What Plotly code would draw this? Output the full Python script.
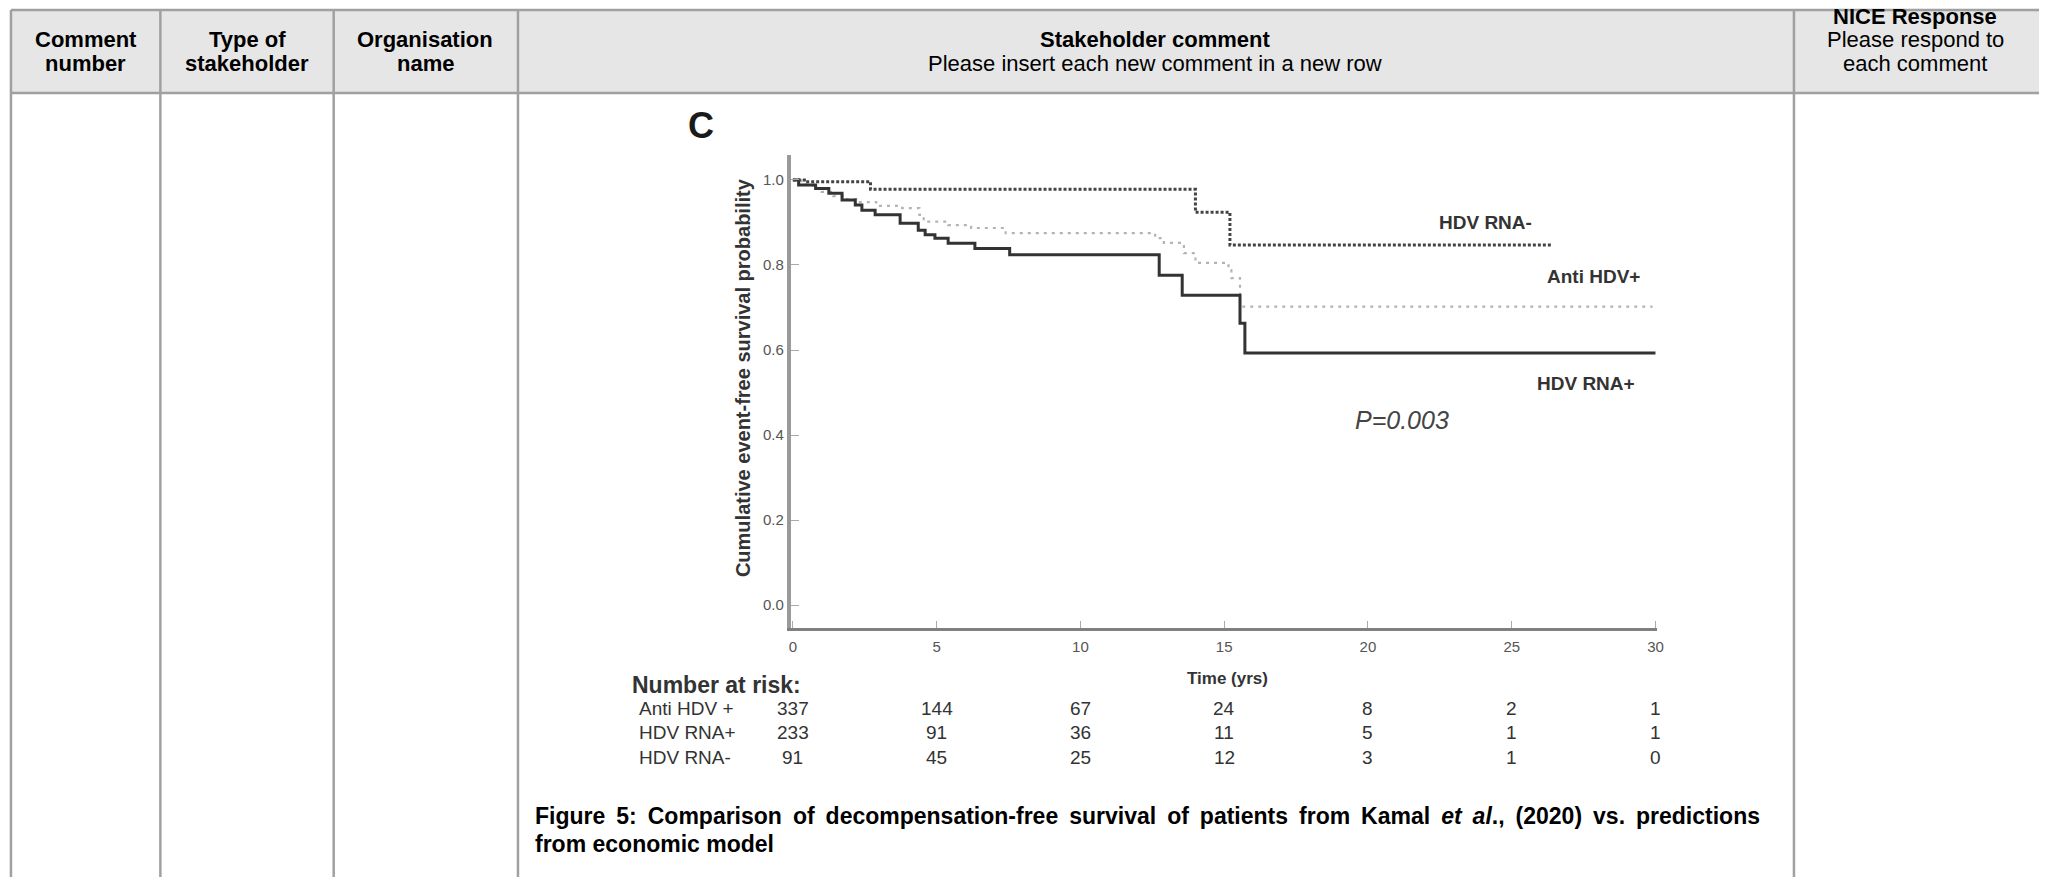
import plotly.graph_objects as go

W, H = 2045, 877
FONT = "Liberation Sans, Arial, Helvetica, sans-serif"

# ---------------- data ----------------
time_ticks = [0, 5, 10, 15, 20, 25, 30]
surv_ticks = [0.0, 0.2, 0.4, 0.6, 0.8, 1.0]
surv_tick_text = ["0.0", "0.2", "0.4", "0.6", "0.8", "1.0"]

hdv_rna_neg_t = [0, 0.4, 2.7, 14.0, 15.2, 26.4]
hdv_rna_neg_s = [1.0, 0.996, 0.978, 0.924, 0.847, 0.847]

anti_hdv_t = [0, 0.3, 0.7, 1.0, 1.4, 1.8, 2.2, 2.9, 3.8, 4.4, 4.55, 5.4, 6.2, 7.4,
              12.6, 12.9, 13.6, 14.0, 15.15, 15.25, 15.55, 29.9]
anti_hdv_s = [1.0, 0.99, 0.98, 0.972, 0.962, 0.955, 0.948, 0.939, 0.934, 0.918, 0.902,
              0.894, 0.887, 0.875, 0.863, 0.852, 0.828, 0.805, 0.788, 0.769, 0.702, 0.702]

hdv_rna_pos_t = [0, 0.2, 0.79, 1.25, 1.71, 2.17, 2.4, 2.86, 3.73, 4.36, 4.6, 4.94, 5.4,
                 6.33, 7.54, 12.74, 13.54, 15.55, 15.72, 30.0]
hdv_rna_pos_s = [1.0, 0.988, 0.980, 0.969, 0.953, 0.941, 0.929, 0.918, 0.898, 0.882,
                 0.871, 0.863, 0.851, 0.839, 0.824, 0.776, 0.729, 0.663, 0.593, 0.593]

risk_groups = ["Anti HDV +", "HDV RNA+", "HDV RNA-"]
risk_anti_hdv = [337, 144, 67, 24, 8, 2, 1]
risk_hdv_rna_pos = [233, 91, 36, 11, 5, 1, 1]
risk_hdv_rna_neg = [91, 45, 25, 12, 3, 1, 0]
risk_rows = [risk_anti_hdv, risk_hdv_rna_pos, risk_hdv_rna_neg]

curve_labels = ["HDV RNA-", "Anti HDV+", "HDV RNA+"]
p_value_text = "P=0.003"

header_titles = [
    ["Comment", "number"],
    ["Type of", "stakeholder"],
    ["Organisation", "name"],
    ["Stakeholder comment", "Please insert each new comment in a new row"],
    ["NICE Response", "Please respond to", "each comment"],
]
header_bold = [
    [True, True],
    [True, True],
    [True, True],
    [True, False],
    [True, False, False],
]

caption_words = ["Figure", "5:", "Comparison", "of", "decompensation-free", "survival",
                 "of", "patients", "from", "Kamal", "<i>et", "al</i>.,", "(2020)", "vs.",
                 "predictions"]
caption_line2 = "from economic model"


def px(x):
    return x / W


def py(y):
    return 1 - y / H


fig = go.Figure()

fig.add_trace(go.Scatter(x=anti_hdv_t, y=anti_hdv_s, mode="lines", line_shape="hv",
                         line=dict(color="#b4b4b4", width=2.2, dash="3px,5px"),
                         name="Anti HDV+", showlegend=False))
fig.add_trace(go.Scatter(x=hdv_rna_pos_t, y=hdv_rna_pos_s, mode="lines", line_shape="hv",
                         line=dict(color="#333333", width=3),
                         name="HDV RNA+", showlegend=False))
fig.add_trace(go.Scatter(x=hdv_rna_neg_t, y=hdv_rna_neg_s, mode="lines", line_shape="hv",
                         line=dict(color="#444444", width=3, dash="3px,2px"),
                         name="HDV RNA-", showlegend=False))

# ---------------- table shapes ----------------
border = "#a0a0a0"
shapes = [
    dict(type="rect", xref="paper", yref="paper", x0=px(9), x1=px(2045), y0=py(93), y1=py(10),
         fillcolor="#e6e6e6", line=dict(width=0), layer="below"),
    dict(type="line", xref="paper", yref="paper", x0=px(9), x1=px(2045), y0=py(10), y1=py(10),
         line=dict(color=border, width=2.5)),
    dict(type="line", xref="paper", yref="paper", x0=px(9), x1=px(2045), y0=py(93), y1=py(93),
         line=dict(color=border, width=2.5)),
]
for xv in [9, 159, 333, 518, 1799]:
    shapes.append(dict(type="line", xref="paper", yref="paper", x0=px(xv), x1=px(xv),
                       y0=py(10), y1=py(877), line=dict(color=border, width=2.5)))

ann = []


def text(x, y, s, size, bold=False, italic=False, color="#000000", xanchor="center",
         yanchor="middle", angle=0):
    if bold:
        s = "<b>" + s + "</b>"
    if italic:
        s = "<i>" + s + "</i>"
    ann.append(dict(x=px(x), y=py(y), xref="paper", yref="paper", text=s, showarrow=False,
                    xanchor=xanchor, yanchor=yanchor, textangle=angle,
                    font=dict(family=FONT, size=size, color=color)))


# header texts
col_centers = [84, 246, 425, 1158, 1921]
for cx, lines, bolds in zip(col_centers, header_titles, header_bold):
    ys = [39.5, 63.5] if len(lines) == 2 else [16.5, 40, 63.5]
    for ln, yy, b in zip(lines, ys, bolds):
        text(cx, yy, ln, 22, bold=b)

# panel letter
text(702, 125, "C", 36, bold=True, color="#1a1a1a")

# y-axis title
text(744, 378, "Cumulative event-free survival probability", 20, bold=True,
     color="#333333", angle=-90)
# x-axis title
text(1230, 678, "Time (yrs)", 17, bold=True, color="#333333")

# curve labels
text(1489, 222, curve_labels[0], 19, bold=True, color="#333333")
text(1598, 277, curve_labels[1], 19, bold=True, color="#333333")
text(1590, 383, curve_labels[2], 19, bold=True, color="#333333")
text(1406, 420, p_value_text, 25, italic=True, color="#444444")

# number at risk
text(630, 685, "Number at risk:", 23, bold=True, color="#333333", xanchor="left")
row_y = [708, 732, 757]
for lab, row, yy in zip(risk_groups, risk_rows, row_y):
    text(637, yy, lab, 19, color="#333333", xanchor="left")
    for t, n in zip(time_ticks, row):
        ann.append(dict(x=t, xref="x", y=py(yy), yref="paper", text=str(n), showarrow=False,
                        xanchor="center", yanchor="middle",
                        font=dict(family=FONT, size=19, color="#333333")))

# caption (first line justified with thin extra spaces)
caption_line1 = " \u2009".join(caption_words)
text(533, 816, caption_line1, 23, bold=True, xanchor="left")
text(533, 844, caption_line2, 23, bold=True, xanchor="left")

fig.update_layout(
    width=W, height=H,
    margin=dict(l=0, r=0, t=0, b=0),
    paper_bgcolor="white", plot_bgcolor="white",
    shapes=shapes, annotations=ann,
    xaxis=dict(domain=[px(792), px(1662)], range=[-0.069, 30.07], tickvals=time_ticks,
               ticks="inside", ticklen=7, tickcolor="#aaaaaa", tickwidth=1,
               showline=True, linecolor="#808080", linewidth=3,
               tickfont=dict(family=FONT, size=15, color="#555555"),
               showgrid=False, zeroline=False, ticklabelstandoff=3),
    yaxis=dict(domain=[py(628), py(155)], range=[-0.0541, 1.0588], tickvals=surv_ticks,
               ticktext=surv_tick_text, ticks="inside", ticklen=8, tickcolor="#aaaaaa",
               tickwidth=1, showline=True, linecolor="#9a9a9a", linewidth=4,
               tickfont=dict(family=FONT, size=15, color="#555555"),
               showgrid=False, zeroline=False),
)

fig.write_html("out.html")
